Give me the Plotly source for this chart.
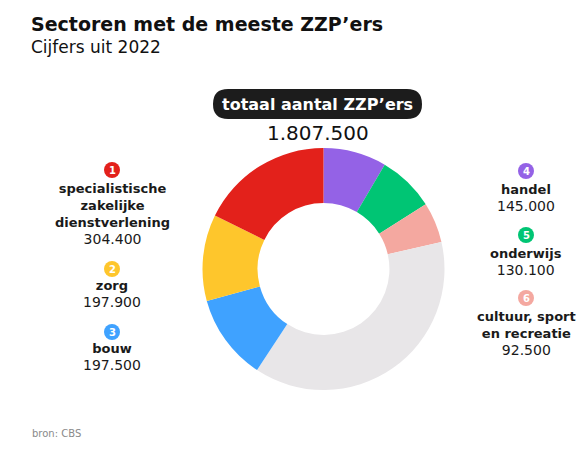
import plotly.graph_objects as go

W, H = 587, 453

# Data (clockwise from top)
sectors = ["handel", "onderwijs", "cultuur, sport en recreatie", "overig",
           "bouw", "zorg", "specialistische zakelijke dienstverlening"]
values = [145000, 130100, 92500, 650100, 197500, 197900, 304400]
colors = ["#9462E6", "#00C574", "#F4A8A0", "#E8E6E8", "#3FA2FF", "#FEC62C", "#E3211B"]
value_labels = ["145.000", "130.100", "92.500", "", "197.500", "197.900", "304.400"]
name_labels = ["handel", "onderwijs", "cultuur, sport<br>en recreatie", "",
               "bouw", "zorg", "specialistische<br>zakelijke<br>dienstverlening"]
total_label = "1.807.500"

FONT = "DejaVu Sans"

def px(x):
    return x / W

def py(y):
    return 1 - y / H

cx, cy, R = 323.5, 269, 121

fig = go.Figure(go.Pie(
    values=values,
    labels=sectors,
    marker=dict(colors=colors, line=dict(width=0)),
    hole=0.545,
    sort=False,
    direction="clockwise",
    rotation=0,
    textinfo="none",
    hoverinfo="skip",
    showlegend=False,
    domain=dict(x=[px(cx - R), px(cx + R)], y=[py(cy + R), py(cy - R)]),
))

annotations = []
shapes = []

def text(x, y, s, size=13, color="#1a1a1a", xanchor="center"):
    annotations.append(dict(
        x=px(x), y=py(y), xref="paper", yref="paper", text=s,
        showarrow=False, xanchor=xanchor, yanchor="middle",
        font=dict(family=FONT, size=size, color=color)))

def badge(x, y, n, color):
    r = 8
    shapes.append(dict(type="circle", xref="paper", yref="paper",
                       x0=px(x - r), x1=px(x + r), y0=py(y + r), y1=py(y - r),
                       fillcolor=color, line=dict(width=0)))
    text(x, y + 0.5, "<b>%d</b>" % n, size=10, color="white")

# Title
text(29, 24, "<b>Sectoren met de meeste ZZP’ers</b>", size=19, color="#111", xanchor="left")
text(29, 47, "Cijfers uit 2022", size=17, color="#111", xanchor="left")

# Pill
x0, x1, y0, y1, rr = 213, 422, 89, 119, 15
path = (f"M {px(x0+rr)},{py(y0)} L {px(x1-rr)},{py(y0)} "
        f"Q {px(x1)},{py(y0)} {px(x1)},{py(y0+rr)} "
        f"Q {px(x1)},{py(y1)} {px(x1-rr)},{py(y1)} "
        f"L {px(x0+rr)},{py(y1)} "
        f"Q {px(x0)},{py(y1)} {px(x0)},{py(y1-rr)} "
        f"Q {px(x0)},{py(y0)} {px(x0+rr)},{py(y0)} Z")
shapes.append(dict(type="path", xref="paper", yref="paper", path=path,
                   fillcolor="#1c1c1c", line=dict(width=0)))
text(317.5, 104, "<b>totaal aantal ZZP’ers</b>", size=16, color="white")
text(318, 133, total_label, size=20, color="#111")

# Label groups: (index in data, rank, x, badge y, group centre y)
groups = [
    (6, 1, 112, 170, 213.5),
    (5, 2, 112, 269, 293.5),
    (4, 3, 112, 332, 357),
    (0, 4, 526, 171, 197.5),
    (1, 5, 526, 235, 262),
    (2, 6, 526, 298, 333),
]
for idx, rank, gx, by, gy in groups:
    badge(gx, by, rank, colors[idx])
    s = "<b>%s</b><br><span style='font-size:14px'>%s</span>" % (name_labels[idx], value_labels[idx])
    text(gx, gy, s, size=13)

text(30, 433, "bron: CBS", size=10, color="#8a8a8a", xanchor="left")

fig.update_layout(
    width=W, height=H,
    margin=dict(l=0, r=0, t=0, b=0),
    paper_bgcolor="white", plot_bgcolor="white",
    annotations=annotations, shapes=shapes,
    font=dict(family=FONT),
)

fig.write_html("out.html", config={"displayModeBar": False})
